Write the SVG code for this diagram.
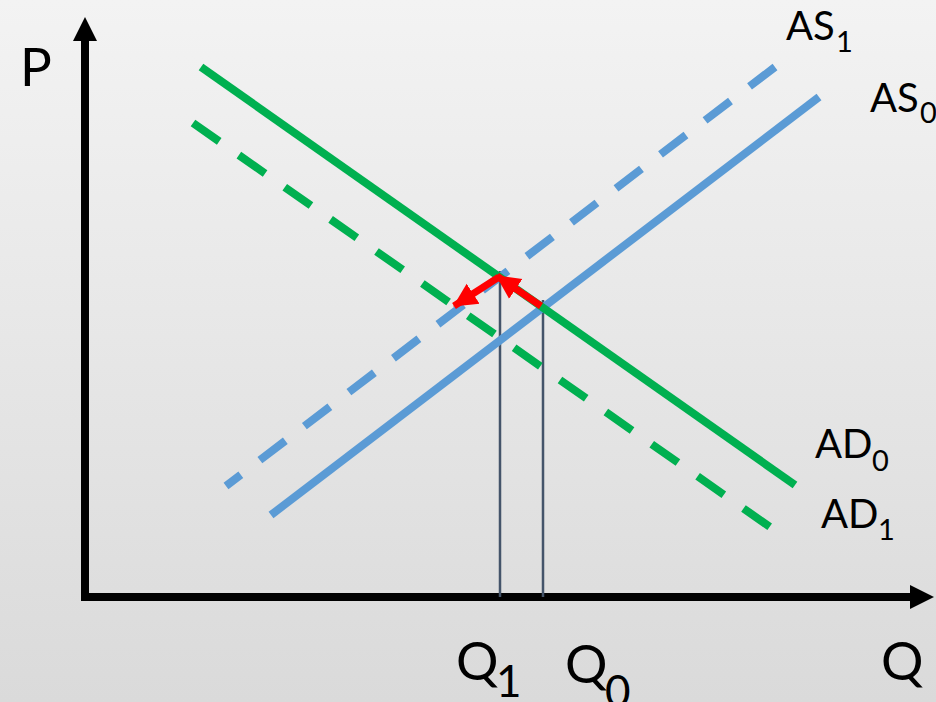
<svg xmlns="http://www.w3.org/2000/svg" width="936" height="702" viewBox="0 0 936 702">
<defs>
<linearGradient id="bg" x1="0" y1="0" x2="0" y2="1">
<stop offset="0" stop-color="#f3f3f3"/>
<stop offset="1" stop-color="#dadada"/>
</linearGradient>
<marker id="redHead" markerUnits="userSpaceOnUse" markerWidth="26" markerHeight="26" viewBox="0 0 24 24" refX="21" refY="12" orient="auto">
<path d="M0,1 L22,12 L0,23 Z" fill="#ff0000"/>
</marker>
<style>
.lbl{font-family:Lato,"Open Sans","Liberation Sans",sans-serif;fill:#000}
.big{font-size:53px}
.mid{font-size:40px}
.sub{font-size:29px}
.qsub{font-size:44px}
.ad{stroke:#00b050;stroke-width:8;fill:none}
.as{stroke:#5b9bd5;stroke-width:8;fill:none}
.dash{stroke-dasharray:32 24}
.guide{stroke:#44546a;stroke-width:2.5}
.red{stroke:#ff0000;stroke-width:7;fill:none;marker-end:url(#redHead)}
</style>
</defs>
<rect width="936" height="702" fill="url(#bg)"/>
<g id="axes">
<line x1="85" y1="600" x2="85" y2="38" stroke="#000" stroke-width="8"/>
<polygon points="85,17 97,41 73,41" fill="#000"/>
<line x1="81" y1="597" x2="912" y2="597" stroke="#000" stroke-width="8"/>
<polygon points="934,597 910,585 910,609" fill="#000"/>
</g>
<g id="connectors">
<line class="guide" x1="500" y1="271" x2="500" y2="597"/>
<line class="guide" x1="543" y1="300" x2="543" y2="597"/>
<line id="AS0" class="as" x1="271" y1="515" x2="819" y2="97"/>
<line id="AS1" class="as dash" x1="775" y1="67" x2="226" y2="486"/>
<line id="AD0" class="ad" x1="201" y1="67" x2="795" y2="485"/>
<line id="AD1" class="ad dash" x1="193" y1="123" x2="770" y2="527"/>
<line class="red" x1="541" y1="306" x2="497" y2="276"/>
<line class="red" x1="499" y1="277" x2="454" y2="306"/>
</g>
<g id="label-P"><text class="lbl big" x="20" y="86">P</text></g>
<g id="label-Q"><text class="lbl big" x="881" y="680">Q</text></g>
<g id="label-Q1"><text class="lbl big" x="456" y="680">Q</text><text class="lbl qsub" x="496" y="697">1</text></g>
<g id="label-Q0"><text class="lbl big" x="565" y="683">Q</text><text class="lbl qsub" x="605" y="707">0</text></g>
<g id="label-AS1"><text class="lbl mid" x="786" y="40">AS</text><text class="lbl sub" x="836" y="52">1</text></g>
<g id="label-AS0"><text class="lbl mid" x="870" y="112">AS</text><text class="lbl sub" x="920" y="123">0</text></g>
<g id="label-AD0"><text class="lbl mid" x="815" y="458">AD</text><text class="lbl sub" x="872" y="471">0</text></g>
<g id="label-AD1"><text class="lbl mid" x="821" y="528">AD</text><text class="lbl sub" x="878" y="540">1</text></g>
</svg>
